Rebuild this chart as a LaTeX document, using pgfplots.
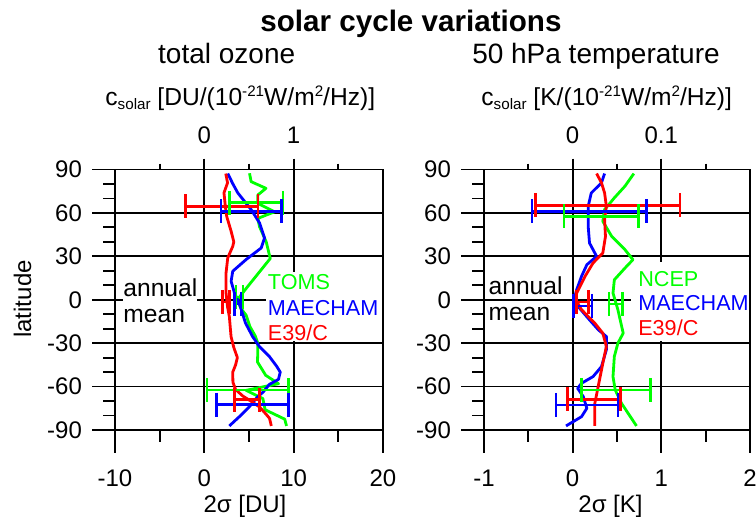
\documentclass[border=0pt]{standalone}
\usepackage{fontspec}
\setmainfont{Liberation Sans}
\usepackage{pgfplots}
\pgfplotsset{compat=1.18}
\definecolor{cR}{RGB}{255,0,0}
\definecolor{cG}{RGB}{0,255,0}
\definecolor{cB}{RGB}{0,0,255}
\newcommand\smallsz{\fontsize{7.6}{8}\selectfont}
\tikzset{
  leg/.style={anchor=base west, inner sep=0pt, font=\fontsize{10.8}{12}\selectfont},
  ann/.style={anchor=base west, inner sep=0pt, font=\fontsize{12.3}{14}\selectfont},
}
\pgfplotsset{
  panel/.style={
    scale only axis, anchor=south west, width=134pt, height=130.25pt,
    ymin=-90, ymax=90, clip=false,
    axis line style={black,line width=0.9pt},
    tick style={black,line width=0.9pt},
    tick align=outside,
    major tick length=11.5pt, minor tick length=5.8pt,
    xtick pos=left, ytick pos=left,
    ytick={-90,-60,-30,0,30,60,90}, yticklabels={-90,-60,-30,0,30,60,90},
    minor ytick={-80,-70,-50,-40,-20,-10,10,20,40,50,70,80},
    grid=major, major grid style={black,line width=0.9pt},
    ticklabel style={font=\fontsize{12}{14}\selectfont},
    yticklabel style={xshift=-1.5pt},
    xticklabel style={yshift=-5pt},
  },
  toppanel/.style={
    scale only axis, anchor=south west, width=134pt, height=130.25pt,
    ymin=-90, ymax=90,
    axis x line*=top, axis y line=none,
    axis line style={black,line width=0.9pt},
    tick style={black,line width=0.9pt},
    tick align=outside,
    major tick length=5.5pt, minor tick length=3pt,
    ticklabel style={font=\fontsize{12}{14}\selectfont},
    xticklabel style={yshift=4pt},
  },
  crv/.style={line width=1.4pt, line join=round, mark=none},
  eb/.style={line width=1.3pt, mark=|, mark size=6pt, forget plot,
    mark options={solid, line width=1.3pt}},
}
\begin{document}
\begin{tikzpicture}[x=0.5pt,y=-0.5pt]
\path[use as bounding box] (0,0) rectangle (756,522);

% ---------------- left panel: total ozone ----------------
\begin{axis}[toppanel, at={(57.5pt,-215pt)}, xmin=-10, xmax=20,
  xtick={0,10}, xticklabels={0,1}, minor xtick={-5,5,15}]
\end{axis}
\begin{axis}[panel, at={(57.5pt,-215pt)}, xmin=-10, xmax=20,
  xtick={-10,0,10,20}, xticklabels={-10,0,10,20}, minor xtick={-5,5,15}]
\fill[white] (axis cs:6.85,19.3) rectangle (axis cs:19.85,-28.8);
% TOMS (green)
\addplot[cG, crv] coordinates {
(5.06,87.4) (5.24,81.6) (6.9,77) (5.99,72.4) (5.99,66.6) (7.87,60.8) (5.99,56.2)
(6.18,50.4) (6.93,40) (7.38,28.5) (6.18,19.3) (4.68,7.8) (3.7,0) (4.1,-6)
(4.68,-10.7) (5.1,-18.5) (5.7,-25) (5.99,-30) (5.99,-35) (5.95,-43) (6.87,-52.2)
(8.3,-58) (4.68,-62.6) (6.55,-68.3) (6.8,-76) (9.0,-82.5) (9.2,-87.2)};
% MAECHAM (blue)
\addplot[cB, crv] coordinates {
(2.62,87.2) (3.2,80) (3.75,73.8) (5.24,62.3) (6.18,53.1) (6.74,42.7) (6.37,35.8)
(4.68,27.8) (3.18,19.7) (3.0,12.8) (3.37,4.7) (3.9,-2.3) (4.3,-10) (4.6,-16)
(5.4,-25.4) (6.16,-32.3) (7.28,-39.2) (8.1,-46) (8.5,-50) (8.3,-55) (7.28,-58.5)
(6.55,-64) (5.97,-67) (5.04,-73.9) (3.92,-80.8) (2.8,-87.2)};
% E39/C (red)
\addplot[cR, crv] coordinates {
(2.4,87.2) (2.6,80.8) (2.2,73.9) (2.35,64.6) (2.5,57.7) (3.0,47.3) (3.3,40)
(3.18,36.9) (2.62,28.9) (2.43,18.5) (2.43,4.7) (2.6,-5) (2.8,-11.6) (2.99,-25.4)
(3.3,-33) (3.7,-40) (3.5,-45) (3.18,-50) (3.2,-57) (3.5,-62) (4.3,-66.5)
(5.2,-70) (6.2,-74.2) (6.9,-79) (7.3,-82) (7.5,-87.2)};
% error bars (2 sigma ranges)
\addplot[cG, eb] coordinates {(2.8,67) (8.8,67)};
\addplot[cG, eb] coordinates {(3.56,2) (4.31,2)};
\addplot[cG, eb] coordinates {(0.3,-62.5) (9.4,-62.5)};
\addplot[cR, eb] coordinates {(-2.13,64.5) (6.0,64.5)};
\addplot[cR, eb] coordinates {(2.06,-1.5) (2.81,-1.5)};
\addplot[cR, eb] coordinates {(3.37,-69) (6.18,-69)};
\addplot[cB, eb] coordinates {(1.87,61) (8.65,61)};
\addplot[cB, eb] coordinates {(3.37,-2.8) (4.12,-2.8)};
\addplot[cB, eb] coordinates {(1.38,-72.5) (9.42,-72.5)};
\node[leg, text=cG] at (axis cs:7.08,7.1) {TOMS};
\node[leg, text=cB] at (axis cs:7.08,-11.2) {MAECHAM};
\node[leg, text=cR] at (axis cs:7.08,-28.5) {E39/C};
\node[ann, fill=white, text depth=2.6pt] at (axis cs:-9.1,2.0) {annual};
\node[ann] at (axis cs:-9.1,-16.0) {mean};
\end{axis}

% ---------------- right panel: 50 hPa temperature ----------------
\begin{axis}[toppanel, at={(242pt,-215pt)}, width=133pt, xmin=-1, xmax=2,
  xtick={0,1}, xticklabels={0,0.1}, minor xtick={-0.5,0.5,1.5}]
\end{axis}
\begin{axis}[panel, at={(242pt,-215pt)}, width=133pt, xmin=-1, xmax=2,
  xtick={-1,0,1,2}, xticklabels={-1,0,1,2}, minor xtick={-0.5,0.5,1.5}]
\fill[white] (axis cs:0.66,26.2) rectangle (axis cs:1.985,-28.8);
% NCEP (green)
\addplot[cG, crv] coordinates {
(0.69,87.2) (0.59,78.5) (0.47,70.4) (0.36,62.3) (0.34,54.2) (0.44,43.8) (0.59,34.6)
(0.68,27.7) (0.59,21.9) (0.47,13.8) (0.455,4.6) (0.51,-6.9) (0.57,-23.1) (0.51,-30)
(0.47,-39.2) (0.455,-53.1) (0.48,-62.3) (0.55,-71.5) (0.72,-87.2)};
% MAECHAM (blue)
\addplot[cB, crv] coordinates {
(0.36,87.2) (0.325,80.8) (0.21,73.8) (0.175,64.6) (0.175,50.8) (0.19,39.2) (0.27,30)
(0.16,24.2) (0.10,16.2) (0.045,6.9) (0.02,1.2) (0.06,-4.6) (0.19,-13.9) (0.29,-20.8)
(0.38,-25.4) (0.38,-34.6) (0.325,-46.2) (0.23,-53.1) (0.10,-57.7) (0.056,-61.2)
(0.12,-67) (0.16,-75) (0.10,-80.8) (-0.075,-87.2)};
% E39/C (red)
\addplot[cR, crv] coordinates {
(0.27,87.2) (0.325,80.8) (0.36,73.8) (0.38,64.6) (0.36,55.4) (0.37,43.8) (0.34,32.3)
(0.23,25.4) (0.14,16.2) (0.045,4.6) (0.034,0) (0.10,-6.9) (0.25,-16.2) (0.34,-23.1)
(0.38,-32.3) (0.34,-43.9) (0.31,-53.1) (0.28,-62.3) (0.25,-71.5) (0.25,-87.2)};
% error bars (2 sigma ranges)
\addplot[cG, eb] coordinates {(-0.10,57.7) (0.74,57.7)};
\addplot[cG, eb] coordinates {(0.41,-2.8) (0.56,-2.8)};
\addplot[cG, eb] coordinates {(0.10,-62.3) (0.88,-62.3)};
\addplot[cR, eb] coordinates {(-0.42,65.3) (1.21,65.3)};
\addplot[cR, eb] coordinates {(0.04,-1.6) (0.18,-1.6)};
\addplot[cR, eb] coordinates {(-0.056,-68.8) (0.54,-68.8)};
\addplot[cB, eb] coordinates {(-0.46,61) (0.83,61)};
\addplot[cB, eb] coordinates {(0.01,-4.3) (0.22,-4.3)};
\addplot[cB, eb] coordinates {(-0.19,-72.7) (0.51,-72.7)};
\node[leg, text=cG] at (axis cs:0.736,9.4) {NCEP};
\node[leg, text=cB] at (axis cs:0.736,-7.7) {MAECHAM};
\node[leg, text=cR] at (axis cs:0.736,-25.0) {E39/C};
\node[ann, fill=white, text depth=2.6pt] at (axis cs:-0.952,3.8) {annual};
\node[ann] at (axis cs:-0.952,-14.2) {mean};
\end{axis}

% ---------------- titles and labels ----------------
\node[anchor=base, font=\bfseries\fontsize{14.8}{16}\selectfont] at (411,31.7) {solar cycle variations};
\node[anchor=base, font=\fontsize{14}{16}\selectfont] at (226.7,64) {total ozone};
\node[anchor=base, font=\fontsize{14}{16}\selectfont] at (596,64) {50 hPa temperature};
\node[anchor=base west, inner sep=0pt, font=\fontsize{12.3}{14}\selectfont] at (105,106)
  {c\raisebox{-2pt}{\smallsz solar} [DU/(10\raisebox{4.5pt}{\smallsz -21}W/m\raisebox{4.5pt}{\smallsz 2}/Hz)]};
\node[anchor=base west, inner sep=0pt, font=\fontsize{12.3}{14}\selectfont] at (481,106)
  {c\raisebox{-2pt}{\smallsz solar} [K/(10\raisebox{4.5pt}{\smallsz -21}W/m\raisebox{4.5pt}{\smallsz 2}/Hz)]};
\node[rotate=90, anchor=center, font=\fontsize{12}{14}\selectfont] at (22.5,299) {latitude};
\node[anchor=base, font=\fontsize{12}{14}\selectfont] at (245,513) {2σ [DU]};
\node[anchor=base, font=\fontsize{12}{14}\selectfont] at (610.5,513) {2σ [K]};
\end{tikzpicture}
\end{document}
